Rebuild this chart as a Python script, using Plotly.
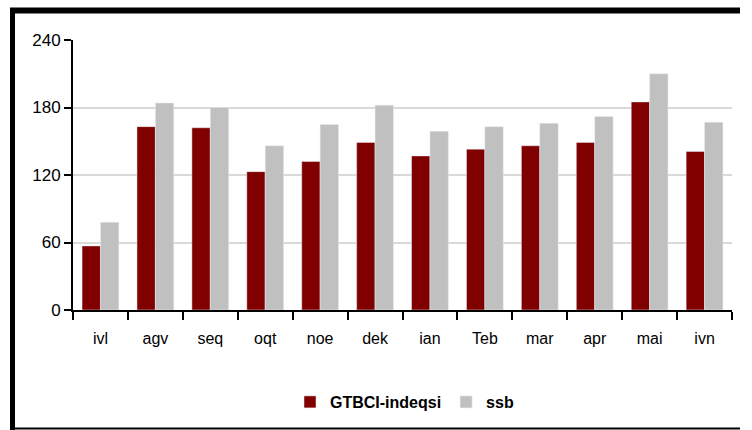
import plotly.graph_objects as go

# meses
meses = ['ivl', 'agv', 'seq', 'oqt', 'noe', 'dek', 'ian', 'Teb', 'mar', 'apr', 'mai', 'ivn']

# series
gtbci = [57, 163, 162, 123, 132, 149, 137, 143, 146, 149, 185, 141]
ssb = [78, 184, 180, 146, 165, 182, 159, 163, 166, 172, 210, 167]

rojo = '#800000'
gris = '#c0c0c0'

fig = go.Figure()
fig.add_trace(go.Bar(x=meses, y=gtbci, name='<b>GTBCI-indeqsi</b>', marker_color=rojo))
fig.add_trace(go.Bar(x=meses, y=ssb, name='<b>ssb</b>', marker_color=gris))

# area del grafico en pixeles
FW, FH = 752, 430
L, T, W, H = 73, 40, 659, 270
def px(x): return (x - L) / W
def py(y): return (T + H - y) / H

# marco negro (las lineas horizontales terminan dentro de la figura)
fig.add_shape(type='line', xref='paper', yref='paper', x0=px(10), x1=px(740),
              y0=py(10.5), y1=py(10.5), line=dict(color='black', width=6))
fig.add_shape(type='line', xref='paper', yref='paper', x0=px(12.5), x1=px(12.5),
              y0=py(8), y1=py(430), line=dict(color='black', width=5))
fig.add_shape(type='line', xref='paper', yref='paper', x0=px(10), x1=px(740),
              y0=py(428.5), y1=py(428.5), line=dict(color='black', width=2))

fig.update_layout(
    width=FW, height=FH,
    margin=dict(l=L, r=FW - L - W, t=T, b=FH - T - H, autoexpand=False),
    plot_bgcolor='white', paper_bgcolor='white',
    barmode='group', bargap=0.33, bargroupgap=0,
    font=dict(family='Liberation Sans, Arial, sans-serif', color='black'),
    showlegend=True,
    legend=dict(orientation='h', x=px(290), xanchor='left', y=py(402), yanchor='middle',
                font=dict(size=16), itemwidth=30, traceorder='normal'),
    xaxis=dict(showline=True, linecolor='black', linewidth=2, ticks='outside',
               tickson='boundaries', ticklen=8, tickwidth=2, tickcolor='black',
               tickfont=dict(size=16), ticklabelstandoff=13),
    yaxis=dict(range=[0, 240], tickvals=[0, 60, 120, 180, 240], showline=True,
               linecolor='black', linewidth=2, ticks='outside', ticklen=7,
               tickwidth=2, tickcolor='black', showgrid=True, gridcolor='#d9d9d9',
               gridwidth=2, tickfont=dict(size=17), zeroline=False),
)

# sin margen ni barras de desplazamiento en la pagina
fig.write_html('out.html', config={'displayModeBar': False},
               post_script="document.body.style.margin='0px';"
                           "document.documentElement.style.overflow='hidden';"
                           "document.body.style.overflow='hidden';")
